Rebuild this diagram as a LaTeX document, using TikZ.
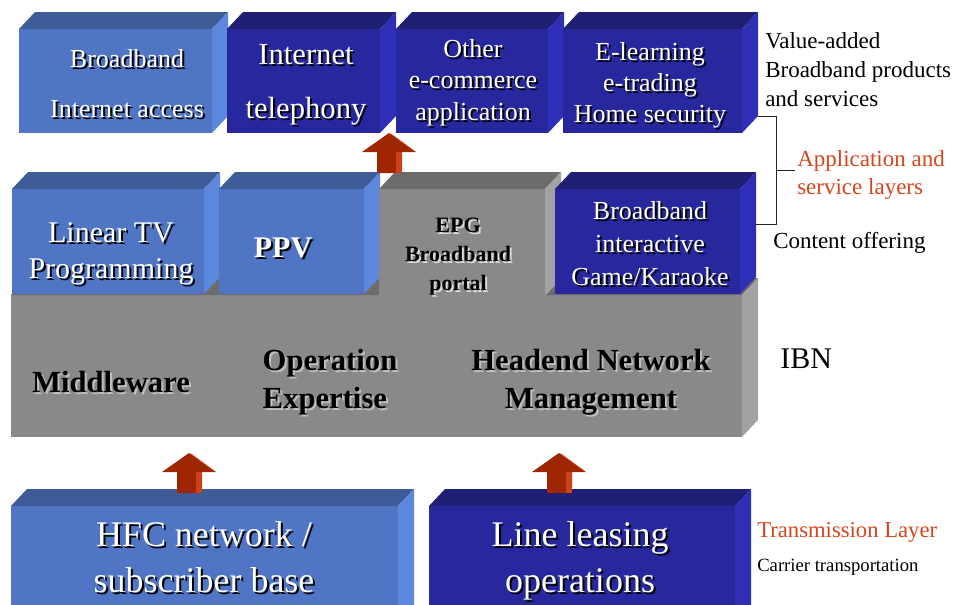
\documentclass[tikz,border=0pt]{standalone}
\usepackage{fontspec}
\setmainfont{Liberation Serif}
\usetikzlibrary{fit,calc}

\definecolor{lblue}{RGB}{79,117,196}
\definecolor{lbluetop}{RGB}{62,92,152}
\definecolor{lblueside}{RGB}{92,136,222}
\definecolor{dblue}{RGB}{40,40,158}
\definecolor{dbluetop}{RGB}{31,31,116}
\definecolor{dblueside}{RGB}{46,46,182}
\definecolor{greyfront}{RGB}{137,137,137}
\definecolor{greytop}{RGB}{108,108,108}
\definecolor{greyside}{RGB}{162,162,162}
\definecolor{arrred}{RGB}{158,38,0}
\definecolor{arrlight}{RGB}{205,65,25}
\definecolor{layred}{RGB}{214,68,28}

\newcommand{\pxfont}[2]{\fontsize{#1}{#2}\selectfont}

% top and right faces of a box whose front is node #1
\newcommand{\cubeface}[3]{%
  \fill[#2] (#1.north west) -- ++(16,-17) -- ([shift={(16,-17)}]#1.north east) -- (#1.north east) -- cycle;
  \fill[#3] (#1.north east) -- ++(16,-17) -- ([shift={(16,-17)}]#1.south east) -- (#1.south east) -- cycle;
}

% text with a drop shadow (placed by the baseline of its last line)
\newcommand{\shtext}[6]{%
  \node[boxtxt,#3,text=#5] (#1-sh) at ([shift={(2,2)}]#2) {#6};
  \node[boxtxt,#3,text=#4] (#1) at (#2) {#6};
}

% block arrow, tip at #2
\newcommand{\uparr}[2]{%
  \coordinate (#1) at (#2);
  \fill[arrred] (#1) -- ++(27,19) -- ++(-14,0) -- ++(0,21) -- ++(-25,0) -- ++(0,-21) -- ++(-15,0) -- cycle;
  \fill[arrlight] ($(#1)+(7,19)$) rectangle ($(#1)+(13,40)$);
  \draw[arrlight, line width=0.6pt] ($(#1)+(2,1)$) -- ($(#1)+(25,18)$);
}

\tikzset{
  face/.style={inner sep=0pt, outer sep=0pt, fill=#1},
  boxtxt/.style={align=center, inner sep=0pt, anchor=base},
  side/.style={align=left, inner sep=0pt, anchor=base west},
  bracket/.style={draw=black!85, line width=0.6pt}
}

\begin{document}
\begin{tikzpicture}[x=0.75pt, y=-0.75pt]
  \useasboundingbox (0,0) rectangle (959,604);
  \clip (0,0) rectangle (959,604);

  % IBN platform
  \node[face=greyfront, fit={(11,295) (742,437)}] (ibn) {};
  \cubeface{ibn}{greytop}{greyside}

  % value-added products
  \node[face=lblue, fit={(19,29) (212,133)}] (bbinet) {};
  \cubeface{bbinet}{lbluetop}{lblueside}
  \node[face=dblue, fit={(227,29) (380,133)}] (inettel) {};
  \cubeface{inettel}{dbluetop}{dblueside}
  \node[face=dblue, fit={(396,29) (548,133)}] (ecom) {};
  \cubeface{ecom}{dbluetop}{dblueside}
  \node[face=dblue, fit={(563,29) (742,133)}] (elearn) {};
  \cubeface{elearn}{dbluetop}{dblueside}

  % content offering
  \node[face=lblue, fit={(12,189) (204,294)}] (lintv) {};
  \cubeface{lintv}{lbluetop}{lblueside}
  \node[face=lblue, fit={(219,189) (364,294)}] (ppv) {};
  \cubeface{ppv}{lbluetop}{lblueside}
  \node[face=greyfront, fit={(379,189) (545,296)}] (epg) {};
  \cubeface{epg}{greytop}{greyside}
  \node[face=dblue, fit={(555,189) (740,294)}] (bbgame) {};
  \cubeface{bbgame}{dbluetop}{dblueside}

  % transmission layer
  \node[face=lblue, fit={(11,506) (398,640)}] (hfc) {};
  \cubeface{hfc}{lbluetop}{lblueside}
  \node[face=dblue, fit={(429,506) (735,640)}] (lease) {};
  \cubeface{lease}{dbluetop}{dblueside}

  % arrows
  \uparr{arr-hfc}{189,453}
  \uparr{arr-lease}{559,453}
  \uparr{arr-ibn}{389,133}

  % box texts
  \shtext{bbinet-t}{127,117}{font=\pxfont{19.5}{37}}{white}{black}{Broadband\\Internet access}
  \shtext{inettel-t}{306,118}{font=\pxfont{23}{40}}{white}{black}{Internet\\telephony}
  \shtext{ecom-t}{473,120}{font=\pxfont{19.5}{23.6}}{white}{black}{Other\\e-commerce\\application}
  \shtext{elearn-t}{650,122}{font=\pxfont{19.5}{23}}{white}{black}{E-learning\\e-trading\\Home security}
  \shtext{lintv-t}{111,278}{font=\pxfont{22.5}{27}}{white}{black}{Linear TV\\Programming}
  \shtext{ppv-t}{283,257}{font=\pxfont{22.5}{27}\bfseries}{white}{black}{PPV}
  \shtext{epg-t}{458,290}{font=\pxfont{16.5}{21.4}\bfseries}{black}{white!85!black}{EPG\\Broadband\\portal}
  \shtext{bbgame-t}{650,285}{font=\pxfont{19.5}{24.4}}{white}{black}{Broadband\\interactive\\Game/Karaoke}
  \shtext{mid-t}{111,392}{font=\pxfont{23}{28.5}\bfseries}{black}{white!75!black}{Middleware}
  \shtext{oper-t}{330,408}{font=\pxfont{23}{28.5}\bfseries, align=left}{black}{white!75!black}{Operation\\Expertise}
  \shtext{head-t}{591,408}{font=\pxfont{23}{28.5}\bfseries}{black}{white!75!black}{Headend Network\\Management}
  \shtext{hfc-t}{204,592}{font=\pxfont{27}{34}}{white}{black}{HFC network /\\subscriber base}
  \shtext{lease-t}{580,592}{font=\pxfont{27}{34}}{white}{black}{Line leasing\\operations}

  % layer bracket
  \draw[bracket] ([shift={(16,-17)}]elearn.south east) -- ++(18,0) coordinate (brk-top)
    |- ([shift={(16,-17)}]bbgame.east) coordinate (brk-bot);
  \draw[bracket] ($(brk-top)!0.5!(brk-top |- brk-bot)$) coordinate (brk-mid) -- ++(19,0) coordinate (brk-tip);

  % layer labels
  \node[side, font=\pxfont{17.25}{21.5}] (valadd) at (765,106) {Value-added\\Broadband products\\and services};
  \node[side, font=\pxfont{17.25}{21}, text=layred] (applayer) at ($(brk-tip)+(2,24)$) {Application and\\service layers};
  \node[side, font=\pxfont{17.25}{21}] (content) at (773,248) {Content offering};
  \node[side, font=\pxfont{22.5}{27}] (ibn-l) at (780,368) {IBN};
  \node[side, font=\pxfont{17}{21}, text=layred] (translayer) at (757,537) {Transmission Layer};
  \node[side, font=\pxfont{14}{17}] (carrier) at (757,571) {Carrier transportation};
\end{tikzpicture}
\end{document}
